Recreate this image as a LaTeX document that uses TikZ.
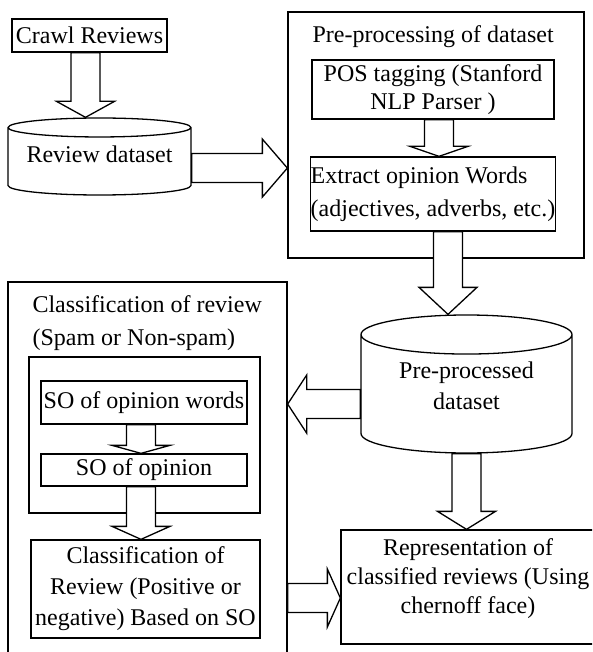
\documentclass[tikz,border=0pt]{standalone}
\usepackage{fontspec}
\setmainfont{Liberation Serif}
\usepackage{tikz}
\usetikzlibrary{shapes, calc}
% hollow block arrows: #1 head length, #2 start, #3 tip
\newcommand{\fatdown}[3]{%
\draw[fatarrow] let \p1=#2, \p2=#3 in (\x1-14.5pt,\y1) -- (\x1-14.5pt,\y2+#1) -- (\x1-29pt,\y2+#1) -- (\x1,\y2) -- (\x1+29pt,\y2+#1) -- (\x1+14.5pt,\y2+#1) -- (\x1+14.5pt,\y1) -- cycle;}
\newcommand{\fatright}[3]{%
\draw[fatarrow] let \p1=#2, \p2=#3 in (\x1,\y1+14.5pt) -- (\x2-#1,\y1+14.5pt) -- (\x2-#1,\y1+29pt) -- (\x2,\y1) -- (\x2-#1,\y1-29pt) -- (\x2-#1,\y1-14.5pt) -- (\x1,\y1-14.5pt) -- cycle;}
\newcommand{\fatleft}[3]{%
\draw[fatarrow] let \p1=#2, \p2=#3 in (\x1,\y1+14.5pt) -- (\x2+#1,\y1+14.5pt) -- (\x2+#1,\y1+29pt) -- (\x2,\y1) -- (\x2+#1,\y1-29pt) -- (\x2+#1,\y1-14.5pt) -- (\x1,\y1-14.5pt) -- cycle;}

\begin{document}
\begin{tikzpicture}[x=1pt,y=-1pt,
  every node/.style={font=\fontsize{24}{31}\selectfont},
  box/.style={draw,rectangle,line width=1.3pt,inner sep=1pt},
  dbase/.style={draw,cylinder,shape border rotate=90,line width=1.3pt,inner sep=0pt,anchor=shape center},
  fatarrow/.style={draw,fill=white,line width=1.3pt}]
\clip (0,0) rectangle (592,652);
\fill[white] (0,0) rectangle (592,652);
\node[box,minimum width=155pt,minimum height=33pt] (crawl) at (89.5,35.5) {Crawl Reviews};
\node[dbase,minimum width=183pt,minimum height=77pt,aspect=0.13,text depth=14pt] (revdb) at (99.5,156.5) {Review dataset};
\node[box,minimum width=296pt,minimum height=246pt] (prebox) at (436,135) {};
\node[anchor=west] (pretitle) at (309,37) {Pre-processing of dataset};
\node[box,minimum width=242pt,minimum height=59pt,align=center,font=\fontsize{24}{28}\selectfont] (pos) at (433,89.5) {POS tagging (Stanford\\NLP Parser )};
\node[box,minimum width=242pt,minimum height=74pt,inner sep=0pt,align=left,font=\fontsize{24}{33}\selectfont] (extract) at (433,194) {Extract opinion Words\\(adjectives, adverbs, etc.)};
\node[dbase,minimum width=211pt,minimum height=138pt,aspect=0.29,align=center,text depth=16pt] (preproc) at (466.5,384) {Pre-processed\\dataset};
\node[box,minimum width=279pt,minimum height=388pt] (clsbox) at (147.5,476) {};
\node[anchor=west,align=left,font=\fontsize{24}{33}\selectfont] (clstitle) at (29,323.5) {Classification of review\\(Spam or Non-spam)};
\node[box,minimum width=231pt,minimum height=156pt] (sobox) at (144.5,435) {};
\node[box,minimum width=206pt,minimum height=43pt] (sow) at (144,402.5) {SO of opinion words};
\node[box,minimum width=206pt,minimum height=32pt] (soo) at (144,470) {SO of opinion};
\node[box,minimum width=229pt,minimum height=98pt,align=center] (clsrev) at (145.5,589) {Classification of\\Review (Positive or\\negative) Based on SO};
\node[box,minimum width=254pt,minimum height=114pt,align=center,font=\fontsize{24}{29}\selectfont,text depth=21pt] (rep) at (468,587) {Representation of\\classified reviews (Using\\chernoff face)};

\fatdown{16pt}{($(crawl.south)+(-4,0)$)}{(revdb.north)}
\fatright{25pt}{($(revdb.east)+(0,6.5)$)}{(prebox.west)}
\fatdown{10pt}{($(pos.south)+(6,0)$)}{(extract.north)}
\fatdown{27pt}{($(extract.south)+(15,0)$)}{(preproc.north)}
\fatleft{19pt}{($(preproc.west)+(0,10)$)}{(clsbox.east)}
\fatdown{8pt}{($(sow.south)+(-3,0)$)}{(soo.north)}
\fatdown{13pt}{($(soo.south)+(-3,0)$)}{(clsrev.north)}
\fatdown{18pt}{(preproc.south)}{(rep.north)}
\fatright{13pt}{($(clsbox.east |- rep.west)+(0,11)$)}{(rep.west)}
\end{tikzpicture}
\end{document}
